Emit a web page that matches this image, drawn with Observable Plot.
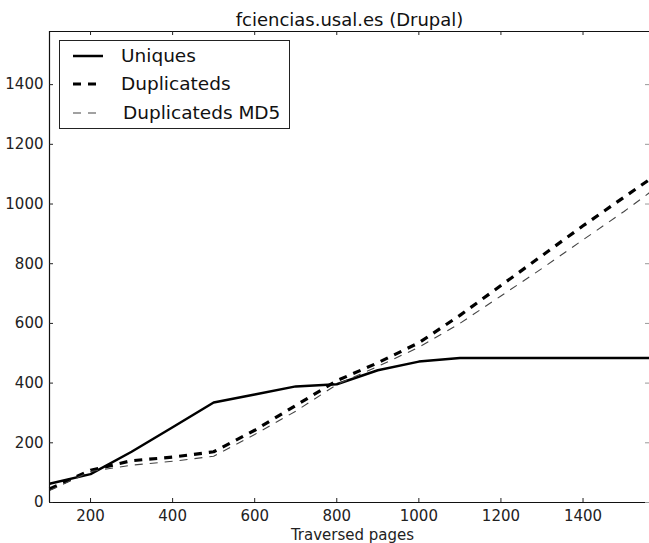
<!DOCTYPE html>
<html>
<head>
<meta charset="utf-8">
<script src="https://cdn.jsdelivr.net/npm/d3@7"></script>
<script src="https://cdn.jsdelivr.net/npm/@observablehq/plot@0.6"></script>
<style>
  html, body { margin: 0; padding: 0; background: #fff; }
  #wrap { position: relative; width: 649px; height: 543px; overflow: hidden; font-family: "DejaVu Sans", sans-serif; }
  #legend { position: absolute; left: 59px; top: 40px; width: 229px; height: 87px; border: 1.4px solid #222; background: #fff; }
  .row { position: absolute; left: 0; height: 24px; }
  .row svg { position: absolute; left: 12px; top: 0; }
  .row span { position: absolute; top: 0; line-height: 24px; font-size: 18.5px; color: #111; white-space: nowrap; }
</style>
</head>
<body>
<div id="wrap"></div>
<script>
// ---- data ----
const title = "fciencias.usal.es (Drupal)";
const xLabel = "Traversed pages";
const seriesNames = ["Uniques", "Duplicateds", "Duplicateds MD5"];
const pages      = [100, 200, 300, 400, 500, 600, 700, 800, 900, 1000, 1100, 1200, 1300, 1400, 1500, 1562];
const uniques    = [63, 95, 170, 252, 335, 362, 389, 396, 443, 472, 484, 484, 484, 484, 484, 484];
const duplicated = [45, 108, 140, 152, 170, 242, 325, 408, 468, 535, 627, 727, 827, 927, 1023, 1082];
const dupMD5     = [40, 104, 125, 138, 155, 228, 306, 395, 456, 520, 600, 692, 784, 880, 975, 1038];
const xTicks = [200, 400, 600, 800, 1000, 1200, 1400];
const yTicks = [0, 200, 400, 600, 800, 1000, 1200, 1400];
const xDomain = [100, 1562];
const yDomain = [0, 1578];

// ---- layout / styles ----
const W = 649, H = 543;
const mT = 31, mB = 41, mL = 49, mR = 0;
const plotW = W - mL - mR, plotH = H - mT - mB;
const styles = [
  {stroke: "#000", strokeWidth: 2.5, dash: null},
  {stroke: "#000", strokeWidth: 3.2, dash: "8,7"},
  {stroke: "#444", strokeWidth: 1.1, dash: "8,7"}
];
const series = [uniques, duplicated, dupMD5].map((vals, i) =>
  pages.map((p, j) => ({page: p, value: vals[j], name: seriesNames[i]})));
const fmt = d => String(d);

const chart = Plot.plot({
  width: W, height: H,
  marginTop: mT, marginBottom: mB, marginLeft: mL, marginRight: mR,
  style: {fontFamily: "DejaVu Sans, sans-serif", fontSize: "15px", color: "#222", background: "#fff"},
  x: {domain: xDomain, ticks: xTicks, tickFormat: fmt, tickSize: 0, tickPadding: 8, label: null},
  y: {domain: yDomain, ticks: yTicks, tickFormat: fmt, tickSize: 0, tickPadding: 6, label: null},
  marks: [
    ...series.map((data, i) => Plot.line(data, {
      x: "page", y: "value",
      stroke: styles[i].stroke, strokeWidth: styles[i].strokeWidth,
      strokeDasharray: styles[i].dash, strokeLinejoin: "round", strokeLinecap: "butt"
    })),
    // frame: left, bottom, top (right edge is outside the picture)
    Plot.ruleX([xDomain[0]], {stroke: "#111", strokeWidth: 1.2}),
    Plot.ruleY([yDomain[0], yDomain[1]], {stroke: "#111", strokeWidth: 1.2}),
    // inward ticks
    Plot.tickX(xTicks, {x: d => d, insetTop: plotH - 4, stroke: "#222"}),
    Plot.tickX(xTicks, {x: d => d, insetBottom: plotH - 4, stroke: "#222"}),
    Plot.tickY(yTicks, {y: d => d, insetRight: plotW - 4, stroke: "#222"}),
    Plot.tickY(yTicks, {y: d => d, insetLeft: plotW - 4, stroke: "#999"}),
    // title and x label
    Plot.text([title], {frameAnchor: "top", dy: -18, fontSize: 18, fill: "#111"}),
    Plot.text([xLabel], {frameAnchor: "bottom", dx: 3, dy: 33, lineAnchor: "middle", fontSize: 15, fill: "#222"})
  ]
});

const wrap = document.getElementById("wrap");
wrap.appendChild(chart);

// legend (HTML overlay)
const legend = document.createElement("div");
legend.id = "legend";
const rowTops = [3, 31, 60];
seriesNames.forEach((name, i) => {
  const row = document.createElement("div");
  row.className = "row";
  row.style.top = rowTops[i] + "px";
  const s = styles[i];
  row.innerHTML =
    `<svg width="32" height="24"><line x1="1" y1="12" x2="31" y2="12" stroke="${s.stroke}" stroke-width="${s.strokeWidth}" ${s.dash ? `stroke-dasharray="${s.dash}"` : ""}/></svg>` +
    `<span style="left:${i === 2 ? 63 : 61}px">${name}</span>`;
  legend.appendChild(row);
});
wrap.appendChild(legend);
</script>
</body>
</html>
